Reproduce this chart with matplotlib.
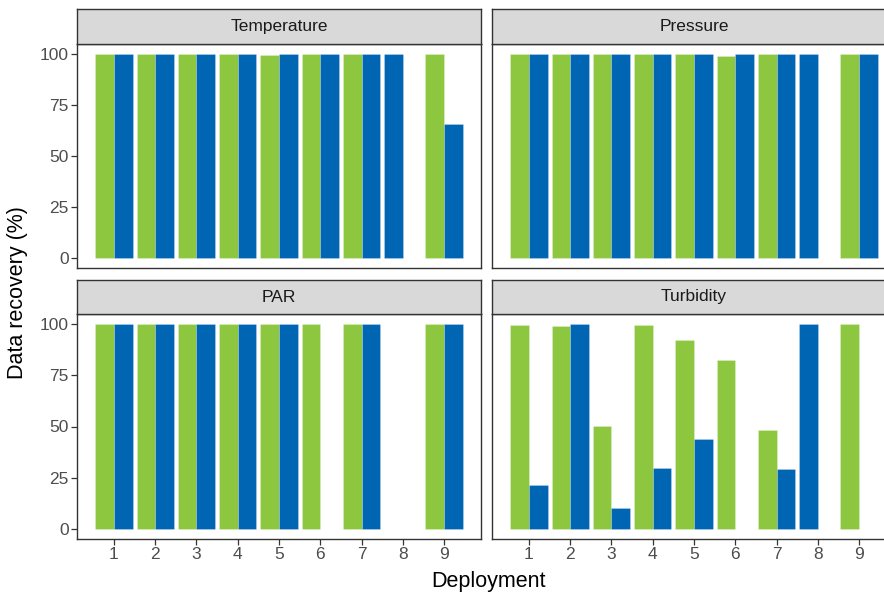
import numpy as np
import matplotlib
matplotlib.use('Agg')
import matplotlib.pyplot as plt

plt.rcParams['font.family'] = ['Liberation Sans', 'DejaVu Sans']

deployments = [1, 2, 3, 4, 5, 6, 7, 8, 9]
nan = np.nan

# data recovery (%) per deployment, two series (green / blue)
temperature_green = [100, 100, 100, 100, 99.5, 100, 100, nan, 100]
temperature_blue = [100, 100, 100, 100, 100, 100, 100, 100, 65.8]
pressure_green = [100, 100, 100, 100, 100, 99.3, 100, nan, 100]
pressure_blue = [100, 100, 100, 100, 100, 100, 100, 100, 100]
par_green = [100, 100, 100, 100, 100, 100, 100, nan, 100]
par_blue = [100, 100, 100, 100, 100, nan, 100, nan, 100]
turbidity_green = [99.6, 99.2, 50.3, 99.5, 92.2, 82.7, 48.4, nan, 100]
turbidity_blue = [21.6, 100, 10.4, 29.5, 43.8, nan, 29.0, 100, nan]

facets = ['Temperature', 'Pressure', 'PAR', 'Turbidity']
green_vals = [temperature_green, pressure_green, par_green, turbidity_green]
blue_vals = [temperature_blue, pressure_blue, par_blue, turbidity_blue]
y_ticks = [0, 25, 50, 75, 100]

GREEN = '#8DC63F'
BLUE = '#0066B3'
BORDER = '#333333'
EDGE = (1, 1, 1, 0.3)

W, H = 884, 594


def rect(x0, y0, x1, y1):
    return [x0 / W, 1 - y1 / H, (x1 - x0) / W, (y1 - y0) / H]


fig = plt.figure(figsize=(W / 100, H / 100), dpi=100)

# pixel boxes: (left, right), (strip top, panel top, panel bottom)
cols = [(77, 481), (492, 896)]
rows = [(9, 44, 268), (280, 314, 539)]

bw = 0.45
for k, name in enumerate(facets):
    r, c = divmod(k, 2)
    x0, x1 = cols[c]
    st, pt, pb = rows[r]
    ax = fig.add_axes(rect(x0, pt, x1, pb))
    g = np.array(green_vals[k], dtype=float)
    b = np.array(blue_vals[k], dtype=float)
    for i, d in enumerate(deployments):
        # dodge with preserve single: a lone bar takes the left slot
        both = not np.isnan(g[i]) and not np.isnan(b[i])
        if both:
            ax.bar(d - bw / 2, g[i], bw, color=GREEN, edgecolor=EDGE, linewidth=0.5)
            ax.bar(d + bw / 2, b[i], bw, color=BLUE, edgecolor=EDGE, linewidth=0.5)
        elif not np.isnan(g[i]):
            ax.bar(d - bw / 2, g[i], bw, color=GREEN, edgecolor=EDGE, linewidth=0.5)
        elif not np.isnan(b[i]):
            ax.bar(d - bw / 2, b[i], bw, color=BLUE, edgecolor=EDGE, linewidth=0.5)
    ax.set_xlim(0.105, 9.895)
    ax.set_ylim(-5, 105)
    ax.set_xticks(deployments)
    ax.set_yticks(y_ticks)
    for s in ax.spines.values():
        s.set_color(BORDER)
        s.set_linewidth(1.0)
    ax.tick_params(colors=BORDER, length=4, width=0.9, labelsize=12.5, labelcolor='#4D4D4D', pad=2)
    if r == 0:
        ax.tick_params(axis='x', bottom=False, labelbottom=False)
    if c == 1:
        ax.tick_params(axis='y', left=False, labelleft=False)

    sax = fig.add_axes(rect(x0, st, x1, pt))
    sax.set_facecolor('#D9D9D9')
    sax.set_xticks([])
    sax.set_yticks([])
    for s in sax.spines.values():
        s.set_color(BORDER)
        s.set_linewidth(1.0)
    sax.text(0.5, 0.5, name, ha='center', va='center', fontsize=12.5, color='#1A1A1A',
             transform=sax.transAxes)

fig.text(488 / W, 1 - 581 / H, 'Deployment', ha='center', va='center', fontsize=15.5)
fig.text(18 / W, 1 - 293 / H, 'Data recovery (%)', ha='center', va='center', fontsize=15.5,
         rotation=90)

fig.savefig('out.png', dpi=100)
